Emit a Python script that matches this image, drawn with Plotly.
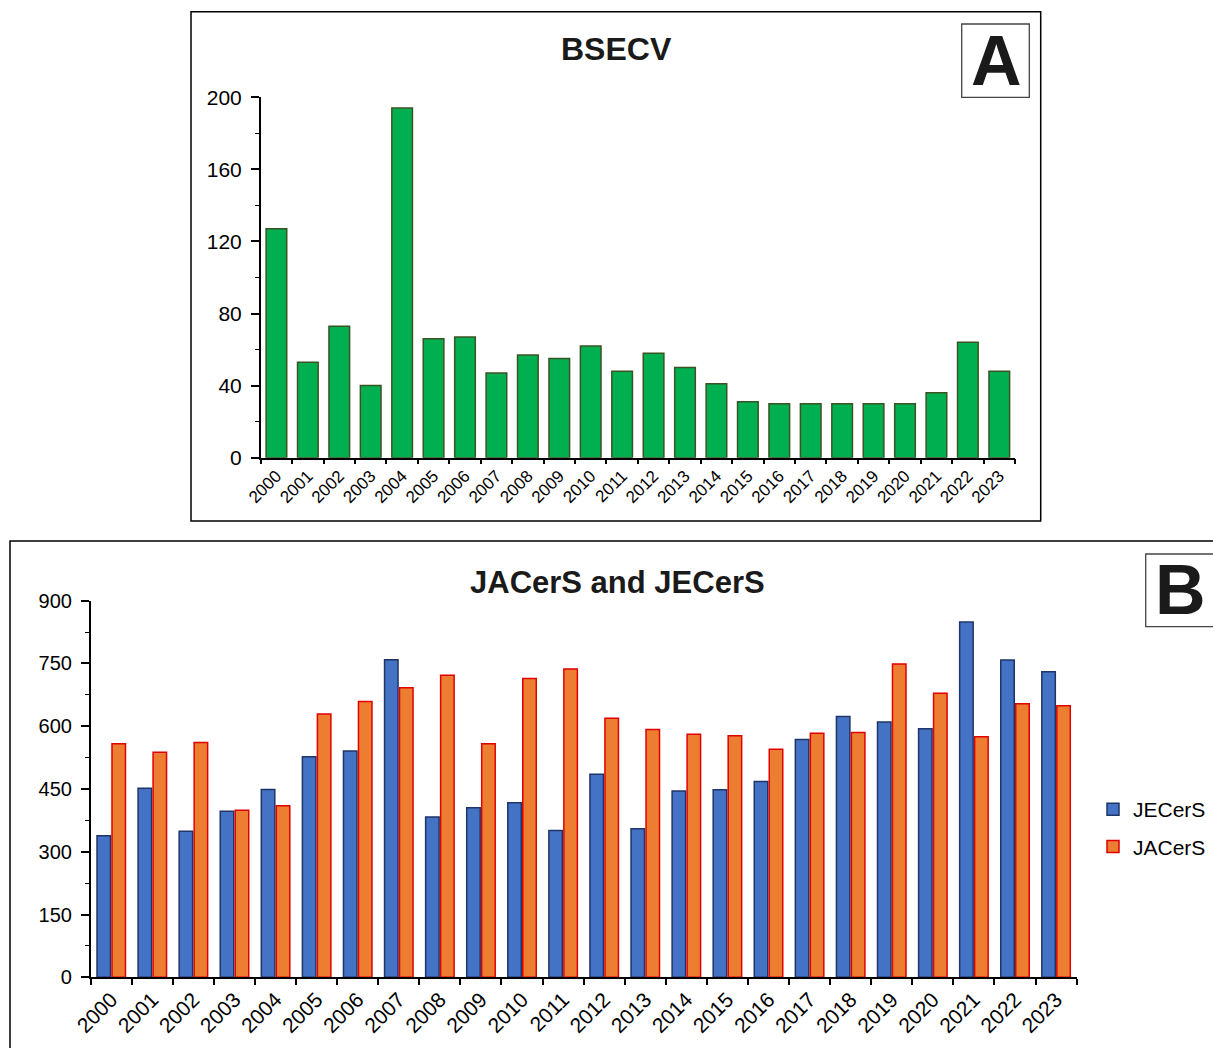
import plotly.graph_objects as go

# ---- data ----
years = [str(y) for y in range(2000, 2024)]
bsecv = [127, 53, 73, 40, 194, 66, 67, 47, 57, 55, 62, 48, 58, 50, 41, 31, 30, 30, 30, 30, 30, 36, 64, 48]
jecers = [338, 452, 349, 397, 449, 527, 541, 759, 383, 405, 417, 351, 485, 355, 445, 448, 468, 568, 623, 610, 594, 849, 758, 730]
jacers = [558, 538, 561, 399, 410, 629, 659, 692, 722, 558, 714, 737, 619, 592, 581, 577, 545, 583, 585, 749, 679, 575, 654, 649]

W, H = 1213, 1048
FONT = "Arial, Liberation Sans, sans-serif"


def px(x):
    return x / W


def py(y):
    return 1 - y / H


fig = go.Figure()

fig.add_trace(go.Bar(
    x=years, y=bsecv, name="BSECV", showlegend=False,
    marker=dict(color="#00B050", line=dict(color="#3B5323", width=1.5)),
    xaxis="x", yaxis="y",
))
fig.add_trace(go.Bar(
    x=years, y=jecers, name="JECerS", legendgroup="g1",
    marker=dict(color="#4472C4", line=dict(color="#1F3468", width=1.5)),
    xaxis="x2", yaxis="y2",
))
fig.add_trace(go.Bar(
    x=years, y=jacers, name="JACerS", legendgroup="g2",
    marker=dict(color="#ED7D31", line=dict(color="#E00000", width=1.5)),
    xaxis="x2", yaxis="y2",
))

axis_common = dict(
    showline=True, linecolor="black", linewidth=1.5,
    ticks="outside", tickcolor="black", tickwidth=1.5,
    showgrid=False, zeroline=False, automargin=False,
)

fig.update_layout(
    template="none",
    width=W, height=H,
    margin=dict(l=0, r=0, t=0, b=0, pad=0, autoexpand=False),
    paper_bgcolor="white", plot_bgcolor="white",
    font=dict(family=FONT, color="black"),
    barmode="group",
    bargap=0.27, bargroupgap=0.1,
    xaxis=dict(
        domain=[px(260.7), px(1015)], anchor="y",
        type="category", tickson="boundaries", ticklen=5,
        tickangle=-45, tickfont=dict(size=17, family=FONT),
        range=[-0.5, 23.5],
        **axis_common,
    ),
    yaxis=dict(
        domain=[py(457.7), py(97.3)], anchor="x",
        range=[0, 200], dtick=40, ticklen=8,
        tickfont=dict(size=21, family=FONT), ticklabelstandoff=5,
        minor=dict(dtick=20, ticks="outside", ticklen=4, tickwidth=1.2, tickcolor="black"),
        **axis_common,
    ),
    xaxis2=dict(
        domain=[px(90.7), px(1076.6)], anchor="y2",
        type="category", tickson="boundaries", ticklen=6,
        tickangle=-45, tickfont=dict(size=21, family=FONT),
        range=[-0.5, 23.5],
        **axis_common,
    ),
    yaxis2=dict(
        domain=[py(977.3), py(600.7)], anchor="x2",
        range=[0, 900], dtick=150, ticklen=8,
        tickfont=dict(size=20, family=FONT), ticklabelstandoff=5,
        minor=dict(dtick=75, ticks="outside", ticklen=4, tickwidth=1.2, tickcolor="black"),
        **axis_common,
    ),
    legend=dict(
        x=px(1093), y=py(789), xanchor="left", yanchor="top",
        font=dict(size=21, family=FONT),
        traceorder="grouped", tracegroupgap=7,
        itemwidth=30, bgcolor="rgba(0,0,0,0)", borderwidth=0,
    ),
)

# panel frames
fig.add_shape(type="rect", xref="paper", yref="paper",
              x0=px(191), x1=px(1040.7), y0=py(521), y1=py(11.7),
              line=dict(color="black", width=1.5), layer="below")
fig.add_shape(type="rect", xref="paper", yref="paper",
              x0=px(10), x1=px(1230), y0=py(1070), y1=py(541),
              line=dict(color="black", width=1.5), layer="below")
# letter boxes
fig.add_shape(type="rect", xref="paper", yref="paper",
              x0=px(961.7), x1=px(1029.3), y0=py(97.3), y1=py(24),
              line=dict(color="#444444", width=1.3))
fig.add_shape(type="rect", xref="paper", yref="paper",
              x0=px(1145.7), x1=px(1230), y0=py(626.7), y1=py(554),
              line=dict(color="#444444", width=1.3))

annos = [
    dict(text="<b>BSECV</b>", x=px(616), y=py(49), size=32),
    dict(text="<b>JACerS and JECerS</b>", x=px(617.5), y=py(582), size=31),
    dict(text="<b>A</b>", x=px(996), y=py(61), size=70),
    dict(text="<b>B</b>", x=px(1180), y=py(590), size=70),
]
for a in annos:
    fig.add_annotation(
        text=a["text"], x=a["x"], y=a["y"], xref="paper", yref="paper",
        xanchor="center", yanchor="middle", showarrow=False,
        font=dict(size=a["size"], family=FONT, color="#1a1a1a"),
    )

fig.write_html(
    "out.html",
    post_script="document.body.style.margin='0';document.body.style.overflow='hidden';",
)
